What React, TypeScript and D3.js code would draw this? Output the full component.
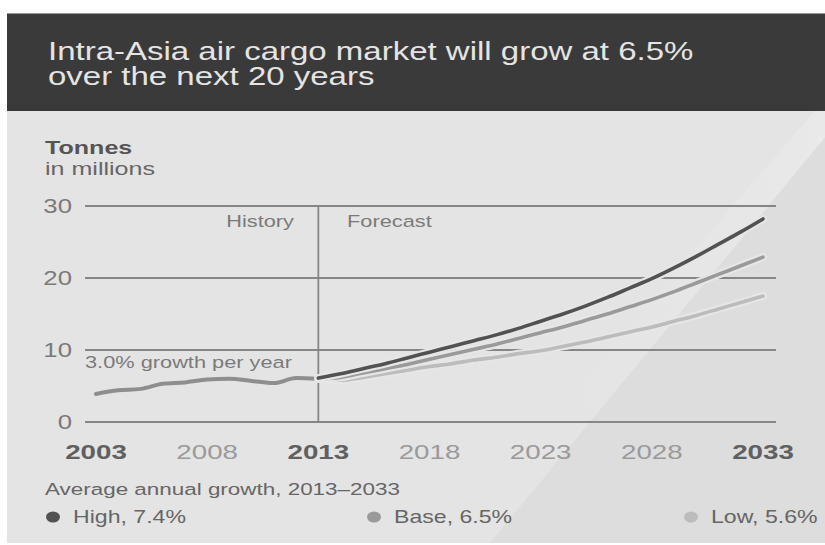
import React from "react";
import * as d3 from "d3";

const historyYears = [2003, 2004, 2005, 2006, 2007, 2008, 2009, 2010, 2011, 2012, 2013];
const historyValues = [3.9, 4.4, 4.6, 5.3, 5.5, 5.9, 6.0, 5.7, 5.4, 6.1, 6.0];

const forecastYears = [2013, 2014, 2015, 2016, 2017, 2018, 2019, 2020, 2021, 2022, 2023, 2024, 2025, 2026, 2027, 2028, 2029, 2030, 2031, 2032, 2033];
const highValues = [6.1, 6.7, 7.4, 8.1, 8.9, 9.7, 10.5, 11.3, 12.1, 13.0, 14.0, 15.0, 16.1, 17.3, 18.6, 19.9, 21.4, 23.0, 24.7, 26.4, 28.2];
const baseValues = [6.0, 6.2, 6.8, 7.4, 8.0, 8.7, 9.4, 10.1, 10.8, 11.6, 12.4, 13.2, 14.1, 15.0, 16.0, 17.0, 18.1, 19.3, 20.5, 21.7, 22.9];
const lowValues = [6.0, 5.8, 6.2, 6.7, 7.2, 7.7, 8.1, 8.6, 9.0, 9.5, 9.9, 10.5, 11.1, 11.8, 12.5, 13.2, 14.0, 14.8, 15.7, 16.6, 17.5];

const yTicks = [0, 10, 20, 30];
const xTicks = [2003, 2008, 2013, 2018, 2023, 2028, 2033];
const boldTicks = [2003, 2013, 2033];

const legendItems = ["High, 7.4%", "Base, 6.5%", "Low, 5.6%"];
const legendColors = ["#525252", "#9a9a9a", "#bcbcbc"];

const SX = 1.32;
const FONT = "'Liberation Sans', Arial, Helvetica, sans-serif";

function T({ x, y, anchor = "start", size, weight = "normal", fill, children }: any) {
  return (
    <text
      transform={`translate(${x},${y}) scale(${SX},1)`}
      textAnchor={anchor}
      fontSize={size}
      fontWeight={weight}
      fill={fill}
      fontFamily={FONT}
    >
      {children}
    </text>
  );
}

export default function App() {
  const W = 825;
  const H = 545;
  const x = d3.scaleLinear().domain([2003, 2033]).range([96, 763]);
  const y = d3.scaleLinear().domain([0, 30]).range([422, 206]);
  const gridX0 = 85;
  const gridX1 = 776;

  const line = d3
    .line<[number, number]>()
    .x((d) => x(d[0]))
    .y((d) => y(d[1]))
    .curve(d3.curveMonotoneX);

  const hist = line(historyYears.map((yr, i) => [yr, historyValues[i]]))!;
  const series = [
    { vals: lowValues, color: legendColors[2] },
    { vals: baseValues, color: legendColors[1] },
    { vals: highValues, color: legendColors[0] },
  ].map((s) => ({ ...s, d: line(forecastYears.map((yr, i) => [yr, s.vals[i]]))! }));

  const panelTop = 111;
  const panelBottom = 543;
  const legendX = [53, 374, 691];

  return (
    <svg
      width={W}
      height={H}
      style={{ position: "absolute", left: 0, top: 0, display: "block" }}
    >
      <defs>
        <linearGradient id="sheen" x1="0" y1="0.5" x2="1" y2="0.3">
          <stop offset="0" stopColor="#e4e4e4" stopOpacity="0" />
          <stop offset="1" stopColor="#e9e9e9" stopOpacity="1" />
        </linearGradient>
      </defs>
      <rect x={0} y={0} width={W} height={H} fill="#ffffff" />
      {/* header */}
      <rect x={7} y={13} width={W - 7} height={98} fill="#3a3a3a" />
      <line x1={7} x2={W} y1={13.5} y2={13.5} stroke="#9a9a9a" strokeWidth={1} />
      {/* panel */}
      <rect x={7} y={panelTop} width={W - 7} height={panelBottom - panelTop} fill="#e4e4e4" />
      <polygon points={`440,${panelBottom} 815,${panelTop} 847,${panelTop} 490,${panelBottom}`} fill="url(#sheen)" />
      <polygon points={`490,${panelBottom} 847,${panelTop} ${W},${panelTop} ${W},${panelBottom}`} fill="#dddddd" />

      <T x={48} y={60} size={25} fill="#e4e4e4">Intra-Asia air cargo market will grow at 6.5%</T>
      <T x={48} y={85} size={25} fill="#e4e4e4">over the next 20 years</T>

      <T x={45} y={154} size={19} weight="bold" fill="#555">Tonnes</T>
      <T x={45} y={175} size={19} fill="#666">in millions</T>

      {/* grid */}
      {yTicks.map((t) => (
        <g key={t}>
          <line x1={gridX0} x2={gridX1} y1={y(t)} y2={y(t)} stroke="#868686" strokeWidth={1.8} />
          <T x={72} y={y(t) + 7} anchor="end" size={19.5} fill="#7a7a7a">{t}</T>
        </g>
      ))}
      <line x1={x(2013)} x2={x(2013)} y1={y(30)} y2={y(0)} stroke="#868686" strokeWidth={1.8} />

      <T x={294} y={227} anchor="end" size={16.5} fill="#7a7a7a">History</T>
      <T x={347} y={227} size={16.5} fill="#7a7a7a">Forecast</T>
      <T x={85} y={368} size={16.5} fill="#7a7a7a">3.0% growth per year</T>

      {/* history line */}
      <path d={hist} fill="none" stroke="#e4e4e4" strokeWidth={8} strokeLinecap="round" strokeLinejoin="round" />
      <path d={hist} fill="none" stroke="#8e8e8e" strokeWidth={4} strokeLinecap="round" strokeLinejoin="round" />

      {/* forecast lines */}
      {series.map((s, i) => (
        <g key={i}>
          <path d={s.d} fill="none" stroke="#e6e6e6" strokeWidth={8} strokeLinecap="round" />
          <path d={s.d} fill="none" stroke={s.color} strokeWidth={3.6} strokeLinecap="round" />
        </g>
      ))}

      {/* x tick labels */}
      {xTicks.map((t) => {
        const b = boldTicks.includes(t);
        return (
          <T key={t} x={x(t)} y={459} anchor="middle" size={21} weight={b ? "bold" : "normal"} fill={b ? "#606060" : "#9a9a9a"}>
            {t}
          </T>
        );
      })}

      {/* legend */}
      <T x={45} y={495} size={17} fill="#666">Average annual growth, 2013–2033</T>
      {legendItems.map((lbl, i) => (
        <g key={lbl}>
          <ellipse cx={legendX[i]} cy={517} rx={7} ry={5.5} fill={legendColors[i]} />
          <T x={legendX[i] + 20} y={523} size={17.5} fill="#666">{lbl}</T>
        </g>
      ))}
    </svg>
  );
}
